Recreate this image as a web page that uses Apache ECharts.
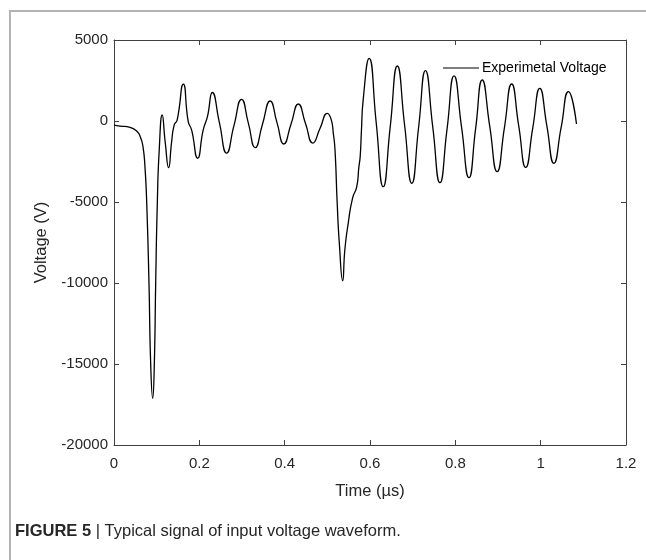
<!DOCTYPE html>
<html>
<head>
<meta charset="utf-8">
<script src="https://cdn.jsdelivr.net/npm/echarts@6/dist/echarts.min.js"></script>
<style>html,body{margin:0;padding:0;background:#fff}#c{width:646px;height:560px}</style>
</head>
<body>
<div id="c"></div>
<script>
// Time (µs)
var timeUs = [0, 0.014, 0.0375, 0.053, 0.062, 0.068, 0.0725, 0.0766, 0.082, 0.086, 0.0907, 0.0945, 0.0977, 0.1016, 0.106,
  0.113, 0.120, 0.128, 0.135, 0.141, 0.148, 0.1625, 0.174, 0.182, 0.196, 0.209, 0.219, 0.2305,
  0.247, 0.264, 0.281, 0.299, 0.315, 0.331, 0.348, 0.366, 0.382, 0.398, 0.415, 0.432, 0.449, 0.466, 0.483, 0.500,
  0.509, 0.514, 0.518, 0.523, 0.528, 0.536, 0.541, 0.549, 0.559, 0.569, 0.574, 0.577, 0.580, 0.584,
  0.598, 0.6145, 0.631, 0.6475, 0.664, 0.681, 0.698, 0.714, 0.730, 0.747, 0.764, 0.7805, 0.797, 0.8145,
  0.832, 0.8475, 0.863, 0.8805, 0.898, 0.915, 0.932, 0.9485, 0.965, 0.9815, 0.998, 1.0145, 1.031, 1.048, 1.065, 1.084];
// Voltage (V)
var voltage = [-250, -310, -390, -620, -1000, -1600, -2800, -5000, -10000, -15000, -17120, -15000, -10000, -5000, -1790,
  370, -1300, -2880, -1300, -250, 60, 2280, -40, -560, -2300, -560, 270, 1760,
  -100, -1980, -300, 1340, -150, -1645, -200, 1235, -100, -1420, -180, 1050, -170, -1360, -450, 475,
  100, -760, -1790, -5000, -7500, -9860, -7960, -6300, -4770, -4050, -2820, -2200, -560, 1300,
  3870, -90, -4055, -330, 3395, -230, -3850, -370, 3105, -350, -3810, -515, 2780, -360,
  -3500, -485, 2530, -300, -3130, -420, 2285, -290, -2860, -420, 2020, -295, -2610, -400, 1810, -185];
var xTicks = [0, 0.2, 0.4, 0.6, 0.8, 1, 1.2];
var yTicks = [-20000, -15000, -10000, -5000, 0, 5000];
var seriesName = 'Experimetal Voltage';

var pts = timeUs.map(function (t, i) { return [t, voltage[i]]; });
var FONT = '"Liberation Sans", Arial, Helvetica, sans-serif';
var axisCol = '#404040';
var labCol = '#262626';

var chart = echarts.init(document.getElementById('c'), null, {renderer: 'canvas'});
chart.setOption({
  animation: false,
  backgroundColor: '#fff',
  grid: {left: 114, right: 20, top: 40, bottom: 115, containLabel: false},
  xAxis: [{
    type: 'value', min: xTicks[0], max: xTicks[xTicks.length - 1], interval: 0.2,
    position: 'bottom',
    name: 'Time (µs)', nameLocation: 'middle', nameGap: 38,
    nameTextStyle: {fontFamily: FONT, fontSize: 16.5, color: labCol},
    axisLine: {show: true, onZero: false, lineStyle: {color: axisCol, width: 1}},
    axisTick: {show: true, inside: true, length: 5, lineStyle: {color: axisCol}},
    axisLabel: {fontFamily: FONT, fontSize: 15, color: labCol, margin: 11,
      formatter: function (v) { return String(Math.round(v * 10) / 10); }},
    splitLine: {show: false}
  }, {
    type: 'value', min: xTicks[0], max: xTicks[xTicks.length - 1], interval: 0.2,
    position: 'top',
    axisLine: {show: true, onZero: false, lineStyle: {color: axisCol, width: 1}},
    axisTick: {show: true, inside: true, length: 5, lineStyle: {color: axisCol}},
    axisLabel: {show: false}, splitLine: {show: false}
  }],
  yAxis: [{
    type: 'value', min: yTicks[0], max: yTicks[yTicks.length - 1], interval: 5000,
    position: 'left',
    name: 'Voltage (V)', nameLocation: 'middle', nameGap: 62, nameRotate: 90,
    nameTextStyle: {fontFamily: FONT, fontSize: 16.5, color: labCol},
    axisLine: {show: true, onZero: false, lineStyle: {color: axisCol, width: 1}},
    axisTick: {show: true, inside: true, length: 5, lineStyle: {color: axisCol}},
    axisLabel: {fontFamily: FONT, fontSize: 15, color: labCol, margin: 6,
      formatter: function (v) { return String(v); }},
    splitLine: {show: false}
  }, {
    type: 'value', min: yTicks[0], max: yTicks[yTicks.length - 1], interval: 5000,
    position: 'right',
    axisLine: {show: true, onZero: false, lineStyle: {color: axisCol, width: 1}},
    axisTick: {show: true, inside: true, length: 5, lineStyle: {color: axisCol}},
    axisLabel: {show: false}, splitLine: {show: false}
  }],
  legend: {
    show: true, left: 438, top: 56, icon: 'rect', itemWidth: 36, itemHeight: 1.2, itemGap: 5,
    textStyle: {fontFamily: FONT, fontSize: 14, color: '#000', padding: [0, 0, 0, -2]},
    data: [{name: seriesName, itemStyle: {color: '#000'}}]
  },
  series: [{
    name: seriesName, type: 'line', data: pts, xAxisIndex: 0, yAxisIndex: 0,
    smooth: 0.55, showSymbol: false, symbol: 'none',
    lineStyle: {color: '#000', width: 1.3}, itemStyle: {color: '#000'}
  }],
  graphic: [{
    type: 'rect', silent: true,
    shape: {x: 10, y: 11, width: 700, height: 700},
    style: {fill: 'none', stroke: '#b4b4b4', lineWidth: 2}
  }, {
    type: 'text', left: 15, top: 523,
    style: {
      text: '{b|FIGURE 5} | Typical signal of input voltage waveform.',
      rich: {b: {fontWeight: 'bold', fontFamily: FONT, fontSize: 16.5, fill: '#262626'}},
      fontFamily: FONT, fontSize: 16.5, fill: '#262626'
    }
  }]
});
</script>
</body>
</html>
